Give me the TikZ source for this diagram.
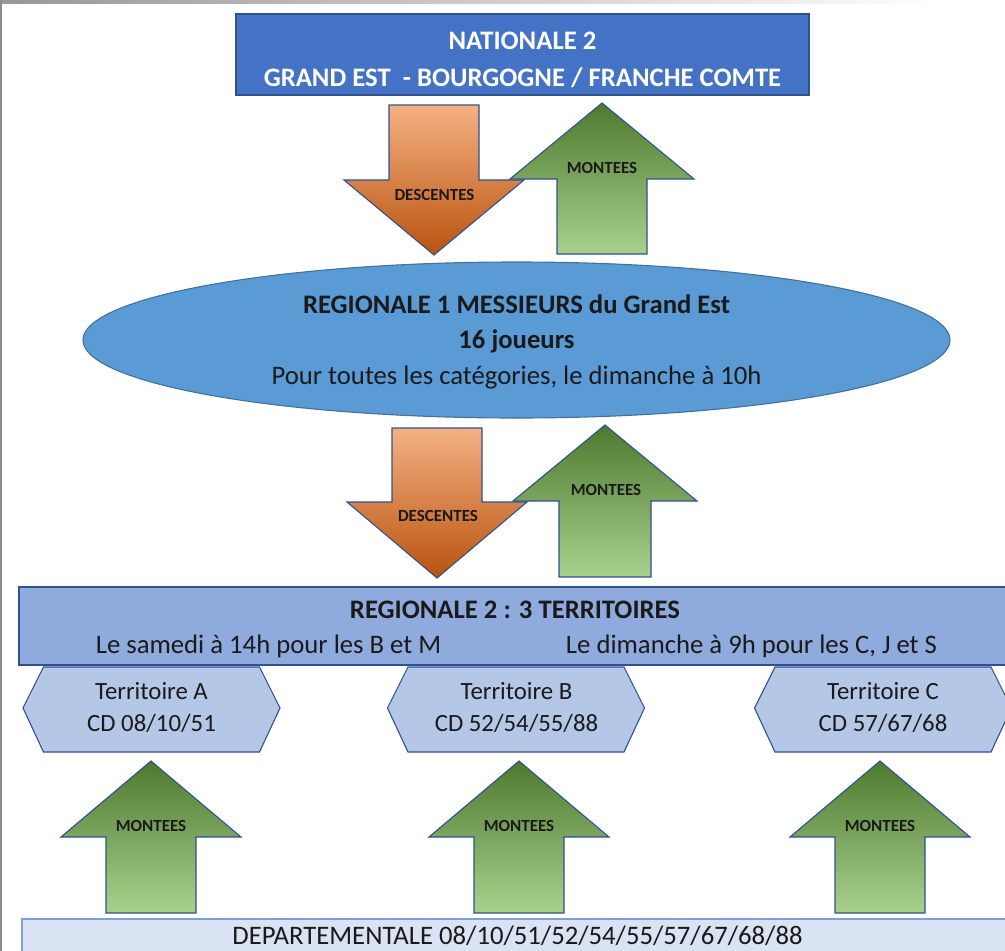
\documentclass[tikz,border=0pt]{standalone}
\usepackage{fontspec}
\setmainfont{Carlito}
\usetikzlibrary{shapes.geometric}
\definecolor{natfill}{HTML}{4472C4}
\definecolor{darkblue}{HTML}{2F528F}
\definecolor{ellfill}{HTML}{5B9BD5}
\definecolor{ellline}{HTML}{41719C}
\definecolor{rtwofill}{HTML}{8FAADC}
\definecolor{hexfill}{HTML}{B4C7E7}
\definecolor{depfill}{HTML}{DAE3F3}
\definecolor{depline}{HTML}{7F9FD6}
\definecolor{orTop}{HTML}{F4B183}
\definecolor{orMid}{HTML}{EC7C30}
\definecolor{orBot}{HTML}{B9530F}
\definecolor{grTop}{HTML}{4E7A2E}
\definecolor{grMid}{HTML}{7DA45E}
\definecolor{grBot}{HTML}{A9D18E}
\definecolor{txt}{HTML}{1A1A1A}
\definecolor{edgegray}{HTML}{8C8C8C}
\newcommand\hexblock[1]{%
  \filldraw[hexsty, shift={(#1,0)}] (-128.5,708) -- (-108,667) -- (108,667) -- (128.5,708) -- (108,752) -- (-108,752) -- cycle;}
\newcommand\upblock[6]{%
  \shadedraw[grsty, shift={(#1,0)}] (0,#2) -- (#5,#3) -- (#6,#3) -- (#6,#4) -- (-#6,#4) -- (-#6,#3) -- (-#5,#3) -- cycle;}
\newcommand\downblock[6]{%
  \shadedraw[orsty, shift={(#1,0)}] (0,#2) -- (#5,#3) -- (#6,#3) -- (#6,#4) -- (-#6,#4) -- (-#6,#3) -- (-#5,#3) -- cycle;}
\begin{document}
\begin{tikzpicture}[x=1pt,y=-1pt,
  big/.style={font=\fontsize{26.7}{31}\selectfont, anchor=base, inner sep=0pt, text=txt},
  bigbold/.style={big, font=\fontsize{26.7}{31}\selectfont\bfseries},
  natlabel/.style={bigbold, text=white},
  arrlabel/.style={anchor=base, inner sep=0pt, text=txt, font=\fontsize{17}{20}\selectfont\bfseries},
  hexlabel/.style={anchor=base, inner sep=0pt, text=txt, font=\fontsize{24.8}{28}\selectfont},
  hexsty/.style={fill=hexfill, draw=darkblue, line width=1.1pt},
  grsty/.style={top color=grTop, middle color=grMid, bottom color=grBot, draw=darkblue, line width=1.1pt},
  orsty/.style={top color=orTop, middle color=orMid, bottom color=orBot, draw=darkblue, line width=1.1pt},
  boxsty/.style={rectangle, inner sep=0pt, line width=1.5pt}]
\useasboundingbox (0,0) rectangle (1005,951);
\clip (0,0) rectangle (1005,951);
\fill[white] (0,0) rectangle (1005,951);
% screenshot frame
\shade[left color=edgegray!90, right color=white] (0,0) rectangle (940,3.5);
\fill[edgegray] (0,0) rectangle (1.6,951);

% NATIONALE 2
\node[boxsty, fill=natfill, draw=darkblue, minimum width=573pt, minimum height=81pt] (nat) at (522.5,54.5) {};
\node[natlabel] (natA) at (522.5,49) {NATIONALE 2};
\node[natlabel] (natB) at (522.5,86) {GRAND EST\ \ - BOURGOGNE / FRANCHE COMTE};

% arrows between N2 and R1
\upblock{602}{103}{179}{254}{92}{45}
\node[arrlabel] (mont1) at (602,173) {MONTEES};
\downblock{434}{255}{180}{105}{90}{45}
\node[arrlabel] (desc1) at (434.5,200) {DESCENTES};

% REGIONALE 1 ellipse
\node[ellipse, fill=ellfill, draw=ellline, line width=1.1pt, minimum width=867pt, minimum height=156pt, inner sep=0pt] (rone) at (516.5,340) {};
\node[bigbold] (roneA) at (516.5,313) {REGIONALE 1 MESSIEURS du Grand Est};
\node[bigbold] (roneB) at (516.5,348) {16 joueurs};
\node[big] (roneC) at (516.5,384) {Pour toutes les catégories, le dimanche à 10h};

% arrows between R1 and R2
\upblock{605}{425}{501}{577}{92}{46}
\node[arrlabel] (mont2) at (606,495) {MONTEES};
\downblock{437}{578}{502}{428}{90}{45}
\node[arrlabel] (desc2) at (438,521) {DESCENTES};

% REGIONALE 2
\node[boxsty, fill=rtwofill, draw=darkblue, minimum width=1001pt, minimum height=78pt] (rtwo) at (519.5,626) {};
\node[bigbold] (rtwoA) at (515,618) {REGIONALE 2 : 3 TERRITOIRES};
\node[big] (rtwoB) at (268.5,653) {Le samedi à 14h pour les B et M};
\node[big] (rtwoC) at (751.5,653) {Le dimanche à 9h pour les C, J et S};

% territoires
\hexblock{151.5}
\hexblock{516}
\hexblock{883}
\node[hexlabel] (terA) at (151.5,699) {Territoire A};
\node[hexlabel] (cdA) at (151.5,731) {CD 08/10/51};
\node[hexlabel] (terB) at (516.5,699) {Territoire B};
\node[hexlabel] (cdB) at (516.5,731) {CD 52/54/55/88};
\node[hexlabel] (terC) at (883,699) {Territoire C};
\node[hexlabel] (cdC) at (883,731) {CD 57/67/68};

% montees from departementale
\upblock{151}{761}{837}{913}{90}{45}
\upblock{519}{761}{837}{913}{90}{45}
\upblock{880}{761}{837}{913}{90}{45}
\node[arrlabel] (montA) at (151,831) {MONTEES};
\node[arrlabel] (montB) at (519,831) {MONTEES};
\node[arrlabel] (montC) at (880,831) {MONTEES};

% DEPARTEMENTALE
\node[boxsty, fill=depfill, draw=depline, line width=1.1pt, minimum width=998pt, minimum height=52pt] (dep) at (521,945) {};
\node[big] (depA) at (517.5,944) {DEPARTEMENTALE 08/10/51/52/54/55/57/67/68/88};
\end{tikzpicture}
\end{document}
